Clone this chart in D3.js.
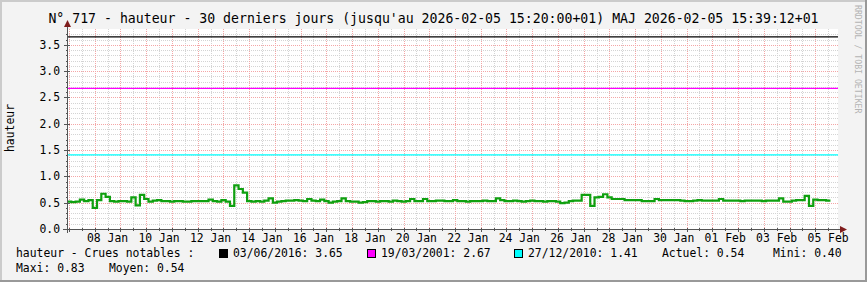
<!DOCTYPE html>
<html>
<head>
<meta charset="utf-8">
<script src="https://cdn.jsdelivr.net/npm/d3@7"></script>
<style>
    body { margin: 0; background: #f3f3f3; }
    svg { display: block; font-family: 'DejaVu Sans Mono', monospace; }
</style>
</head>
<body>
<div id="chart"></div>
<script>
"use strict";

// Hauteur readings, one every 4 hours, from the left edge of the plot
const dataStart = Date.UTC(2026, 0, 6, 22, 8);
const stepHours = 4;
const hauteur = [
    0.52, 0.51, 0.52, 0.56, 0.53, 0.55, 0.40, 0.55, 0.67, 0.61,
    0.53, 0.52, 0.53, 0.53, 0.52, 0.60, 0.45, 0.65, 0.57, 0.52,
    0.54, 0.55, 0.53, 0.53, 0.52, 0.53, 0.53, 0.52, 0.52, 0.53,
    0.53, 0.53, 0.53, 0.56, 0.53, 0.52, 0.55, 0.52, 0.44, 0.83,
    0.76, 0.69, 0.53, 0.52, 0.53, 0.52, 0.54, 0.58, 0.50, 0.52,
    0.53, 0.54, 0.54, 0.55, 0.54, 0.53, 0.57, 0.54, 0.53, 0.56,
    0.53, 0.50, 0.52, 0.53, 0.58, 0.53, 0.52, 0.52, 0.50, 0.51,
    0.53, 0.53, 0.52, 0.53, 0.53, 0.52, 0.54, 0.53, 0.52, 0.53,
    0.57, 0.53, 0.53, 0.57, 0.53, 0.53, 0.54, 0.54, 0.53, 0.53,
    0.55, 0.53, 0.53, 0.52, 0.53, 0.53, 0.53, 0.54, 0.53, 0.53,
    0.58, 0.55, 0.53, 0.53, 0.54, 0.53, 0.52, 0.53, 0.54, 0.53,
    0.53, 0.52, 0.53, 0.53, 0.52, 0.49, 0.50, 0.53, 0.54, 0.54,
    0.65, 0.65, 0.44, 0.60, 0.61, 0.66, 0.60, 0.57, 0.57, 0.57,
    0.55, 0.55, 0.55, 0.55, 0.53, 0.53, 0.53, 0.57, 0.55, 0.55,
    0.55, 0.55, 0.55, 0.54, 0.53, 0.53, 0.54, 0.55, 0.54, 0.54,
    0.54, 0.54, 0.57, 0.54, 0.54, 0.54, 0.54, 0.53, 0.54, 0.54,
    0.54, 0.54, 0.53, 0.54, 0.54, 0.54, 0.58, 0.52, 0.52, 0.54,
    0.55, 0.55, 0.63, 0.44, 0.56, 0.55, 0.55, 0.54];

// Notable floods (horizontal rules)
const crueDates = ['03/06/2016', '19/03/2001', '27/12/2010'];
const crueValues = [3.65, 2.67, 1.41];
const crueColors = ['#000000', '#ff00ff', '#00ffff'];

// Day labels under the x axis (every two days)
const labelDays = ['2026-01-08', '2026-01-10', '2026-01-12', '2026-01-14',
    '2026-01-16', '2026-01-18', '2026-01-20', '2026-01-22', '2026-01-24',
    '2026-01-26', '2026-01-28', '2026-01-30', '2026-02-01', '2026-02-03',
    '2026-02-05'];
const yTicks = [0, 0.5, 1.0, 1.5, 2.0, 2.5, 3.0, 3.5];

const stats = {actuel: '0.54', mini: '0.40', maxi: '0.83', moyen: '0.54'};
const title = "N° 717 - hauteur - 30 derniers jours (jusqu'au 2026-02-05 15:20:00+01) MAJ 2026-02-05 15:39:12+01";

const W = 867, H = 282;
const margin = {left: 67, right: 29, top: 29, bottom: 53};
const plotRight = W - margin.right, plotBottom = H - margin.bottom;
const DAY = 864e5;

let svg = d3.select('#chart').append('svg')
    .attr('width', W)
    .attr('height', H);

// Background with rrdtool style shaded frame
svg.append('rect').attr('width', W).attr('height', H).attr('fill', '#f3f3f3');
svg.append('path').attr('d', 'M0,' + H + 'V0H' + W)
    .attr('fill', 'none').attr('stroke', '#cbcbcb').attr('stroke-width', 4);
svg.append('path').attr('d', 'M0,' + H + 'H' + W + 'V0')
    .attr('fill', 'none').attr('stroke', '#999999').attr('stroke-width', 4);

let x = d3.scaleUtc()
    .domain([new Date(dataStart), new Date(dataStart + 30 * DAY)])
    .range([margin.left, plotRight + 1]);
let y = d3.scaleLinear()
    .domain([0, 3.8])
    .range([plotBottom, margin.top]);

// Canvas
svg.append('rect')
    .attr('x', margin.left).attr('y', margin.top)
    .attr('width', plotRight - margin.left).attr('height', plotBottom - margin.top)
    .attr('fill', '#ffffff');

let grid = svg.append('g').attr('shape-rendering', 'crispEdges');
let [t0, t1] = x.domain();

// Minor grid: 12 hours and 0.1 steps, major grid: days and 0.5 steps
grid.selectAll('line.vminor')
  .data(d3.utcHour.every(12).range(t0, t1).filter(function (d) { return d.getUTCHours() !== 0; }))
  .enter().append('line')
    .attr('x1', function (d) { return Math.round(x(d)) + 0.5; })
    .attr('x2', function (d) { return Math.round(x(d)) + 0.5; })
    .attr('y1', margin.top).attr('y2', plotBottom)
    .attr('stroke', '#d4d4d4').attr('stroke-dasharray', '1,1');
grid.selectAll('line.hminor')
  .data(d3.range(1, 38).filter(function (i) { return i % 5 !== 0; }).map(function (i) { return i / 10; }))
  .enter().append('line')
    .attr('y1', function (d) { return Math.round(y(d)) + 0.5; })
    .attr('y2', function (d) { return Math.round(y(d)) + 0.5; })
    .attr('x1', margin.left).attr('x2', plotRight)
    .attr('stroke', '#d4d4d4').attr('stroke-dasharray', '1,1');
grid.selectAll('line.vmajor')
  .data(d3.utcDay.range(t0, t1))
  .enter().append('line')
    .attr('x1', function (d) { return Math.round(x(d)) + 0.5; })
    .attr('x2', function (d) { return Math.round(x(d)) + 0.5; })
    .attr('y1', margin.top).attr('y2', plotBottom)
    .attr('stroke', '#f4a6a6').attr('stroke-dasharray', '1,1');
grid.selectAll('line.hmajor')
  .data(yTicks.slice(1))
  .enter().append('line')
    .attr('y1', function (d) { return Math.round(y(d)) + 0.5; })
    .attr('y2', function (d) { return Math.round(y(d)) + 0.5; })
    .attr('x1', margin.left).attr('x2', plotRight)
    .attr('stroke', '#f4a6a6').attr('stroke-dasharray', '1,1');

// Notable flood rules
svg.selectAll('line.crue')
  .data(crueValues)
  .enter().append('line')
    .attr('x1', margin.left).attr('x2', plotRight)
    .attr('y1', function (d) { return y(d); })
    .attr('y2', function (d) { return y(d); })
    .attr('stroke', function (d, i) { return crueColors[i]; })
    .attr('stroke-width', 1.3);

// Data as a step line; repeat the last value to close the last step
let points = hauteur.map(function (v, i) {
    return {t: new Date(dataStart + i * stepHours * 36e5), v: v};
});
points.push({t: new Date(dataStart + hauteur.length * stepHours * 36e5), v: hauteur[hauteur.length - 1]});
svg.append('path')
    .datum(points)
    .attr('fill', 'none')
    .attr('stroke', '#0fa00f')
    .attr('stroke-width', 2.2)
    .attr('d', d3.line()
        .curve(d3.curveStepAfter)
        .x(function (d) { return x(d.t); })
        .y(function (d) { return y(d.v); }));

// Axes (drawn by hand, rrdtool look)
let axis = svg.append('g').attr('shape-rendering', 'crispEdges').attr('stroke', '#555');
axis.append('line')
    .attr('x1', margin.left - 4).attr('x2', plotRight + 3)
    .attr('y1', plotBottom + 0.5).attr('y2', plotBottom + 0.5);
axis.append('line')
    .attr('x1', margin.left + 0.5).attr('x2', margin.left + 0.5)
    .attr('y1', plotBottom + 4).attr('y2', margin.top - 4);
axis.selectAll('line.ytick')
  .data(d3.range(0, 38).map(function (i) { return i / 10; }))
  .enter().append('line')
    .attr('x1', function (d, i) { return margin.left - (i % 5 === 0 ? 3 : 1); })
    .attr('x2', function (d, i) { return margin.left + (i % 5 === 0 ? 3 : 1); })
    .attr('y1', function (d) { return Math.round(y(d)) + 0.5; })
    .attr('y2', function (d) { return Math.round(y(d)) + 0.5; });
axis.selectAll('line.xtick')
  .data(d3.utcHour.every(12).range(t0, t1))
  .enter().append('line')
    .attr('x1', function (d) { return Math.round(x(d)) + 0.5; })
    .attr('x2', function (d) { return Math.round(x(d)) + 0.5; })
    .attr('y1', plotBottom - 1)
    .attr('y2', function (d) { return plotBottom + (d.getUTCHours() === 0 ? 3 : 2); });

// Arrow heads
svg.append('path')
    .attr('d', 'M' + (plotRight + 2) + ',' + (plotBottom - 3) + 'L' + (plotRight + 9) + ',' + (plotBottom + 0.5) +
        'L' + (plotRight + 2) + ',' + (plotBottom + 4) + 'Z')
    .attr('fill', '#7f1d1d');
svg.append('path')
    .attr('d', 'M' + (margin.left - 3) + ',' + (margin.top - 2) + 'L' + (margin.left + 0.5) + ',' + (margin.top - 9) +
        'L' + (margin.left + 4) + ',' + (margin.top - 2) + 'Z')
    .attr('fill', '#7f1d1d');

// Tick labels
svg.selectAll('text.ylab')
  .data(yTicks)
  .enter().append('text')
    .attr('x', margin.left - 7)
    .attr('y', function (d) { return y(d) + 4; })
    .attr('text-anchor', 'end')
    .style('font-size', '11.4px')
    .text(function (d) { return d.toFixed(1); });
let fmt = d3.utcFormat('%d %b');
svg.selectAll('text.xlab')
  .data(labelDays.map(function (s) { return new Date(s + 'T12:00:00Z'); }))
  .enter().append('text')
    .attr('x', function (d) { return x(d); })
    .attr('y', plotBottom + 12.5)
    .attr('text-anchor', 'middle')
    .style('font-size', '11.4px')
    .text(function (d) { return fmt(d); });

// Titles
svg.append('text')
    .attr('x', W / 2).attr('y', 23)
    .attr('text-anchor', 'middle')
    .style('font-size', '13.2px')
    .text(title);
svg.append('text')
    .attr('transform', 'translate(14,128) rotate(-90)')
    .attr('text-anchor', 'middle')
    .style('font-size', '11.4px')
    .text('hauteur');
svg.append('text')
    .attr('transform', 'translate(855,5) rotate(90)')
    .style('font-size', '8.2px')
    .attr('fill', '#b4b4b4')
    .text('RRDTOOL / TOBI OETIKER');

// Legend
let legend = svg.append('g').style('font-size', '11.4px');
legend.append('text').attr('x', 16).attr('y', 257).text('hauteur - Crues notables :');
let boxX = [219, 367, 514];
crueDates.forEach(function (d, i) {
    legend.append('rect')
        .attr('x', boxX[i] + 0.5).attr('y', 249.5)
        .attr('width', 8).attr('height', 8)
        .attr('fill', crueColors[i]).attr('stroke', '#000');
    legend.append('text').attr('x', boxX[i] + 14).attr('y', 257)
        .text(d + ': ' + crueValues[i].toFixed(2));
});
legend.append('text').attr('x', 662).attr('y', 257).text('Actuel: ' + stats.actuel);
legend.append('text').attr('x', 773).attr('y', 257).text('Mini: ' + stats.mini);
legend.append('text').attr('x', 16).attr('y', 272).text('Maxi: ' + stats.maxi);
legend.append('text').attr('x', 109).attr('y', 272).text('Moyen: ' + stats.moyen);
</script>
</body>
</html>
